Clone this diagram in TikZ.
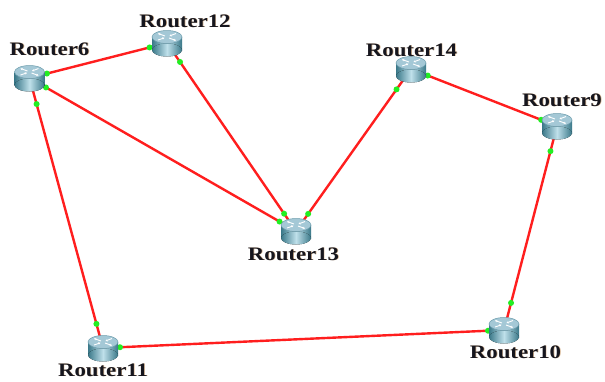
\documentclass[tikz,border=0pt]{standalone}
\usepackage{fontspec}
\setmainfont{Liberation Serif}
\usetikzlibrary{calc,arrows.meta}
\definecolor{linkred}{HTML}{FF1E1E}
\definecolor{portgreen}{HTML}{22EE22}
\definecolor{bodyedge}{HTML}{3A7889}
\definecolor{bodymid}{HTML}{BFE0EA}
\definecolor{topfill}{HTML}{A4C8D6}
\definecolor{topedge}{HTML}{6C9CAC}
\definecolor{labeltext}{HTML}{16161E}
\definecolor{labelshadow}{HTML}{C08A50}
\tikzset{
  routerbox/.style={rectangle,minimum width=30pt,minimum height=27pt,inner sep=0pt},
  link/.style={draw=linkred,line width=2.4pt},
  portdot/.style={fill=portgreen},
  rlabel/.style={anchor=base,inner sep=0pt,font=\bfseries\fontsize{19}{19}\selectfont,text=labeltext},
  rshadow/.style={anchor=base,inner sep=0pt,font=\bfseries\fontsize{19}{19}\selectfont,text=labelshadow,opacity=0.6},
  router/.pic={
    \fill[left color=bodyedge,right color=bodyedge,middle color=bodymid] (-15,-6) rectangle (15,7);
    \fill[left color=bodyedge,right color=bodyedge,middle color=bodymid] (0,7) ellipse [x radius=15, y radius=6.5];
    \fill[topfill,draw=topedge,line width=0.5pt] (0,-6) ellipse [x radius=15, y radius=6.5];
    \draw[white,line width=0.9pt,-{Stealth[length=2.2pt,width=2.4pt]}] (-2,-7) -- (-9,-9.5);
    \draw[white,line width=0.9pt,-{Stealth[length=2.2pt,width=2.4pt]}] (2,-5) -- (9,-2.5);
    \draw[white,line width=0.9pt,-{Stealth[length=2.2pt,width=2.4pt]}] (-9,-3) -- (-2.5,-5.2);
    \draw[white,line width=0.9pt,-{Stealth[length=2.2pt,width=2.4pt]}] (9,-9.5) -- (2.5,-7);
  }
}
\newcommand{\routerlabel}[3]{%
  \node[rshadow] at ($(#1)+(0.7,0.6)$) {\scalebox{1.2}[1]{#3}};
  \node[rlabel] (#2) at (#1) {\scalebox{1.2}[1]{#3}};}
\begin{document}
\begin{tikzpicture}[x=1pt,y=-1pt]
\useasboundingbox[fill=white] (0,0) rectangle (605,381);
% router nodes
\node[routerbox] (r6)  at (29.5,78) {};
\node[routerbox] (r12) at (167,43) {};
\node[routerbox] (r14) at (411,69) {};
\node[routerbox] (r9)  at (557,126) {};
\node[routerbox] (r13) at (296,231) {};
\node[routerbox] (r11) at (103,348) {};
\node[routerbox] (r10) at (504,330) {};
% links
\foreach \a/\b in {r6/r12, r6/r13, r12/r13, r13/r14, r14/r9, r9/r10, r10/r11, r11/r6}{
  \draw[link] (\a.center) -- (\b.center);
}
\foreach \a/\b/\da/\db in {r6/r12/18/18, r6/r13/19/19, r12/r13/23/21, r13/r14/21/25,
                          r14/r9/18/17, r9/r10/26/28, r10/r11/16/17, r11/r6/25/27}{
  \fill[portdot] ($(\a)!\da pt!(\b)$) circle (3pt);
  \fill[portdot] ($(\b)!\db pt!(\a)$) circle (3pt);
}
% icons
\foreach \r in {r6,r12,r14,r9,r13,r11,r10}{
  \pic at (\r) {router};
}
% labels
\coordinate (l6) at (49.5,55);
\coordinate (l12) at (185,27);
\coordinate (l14) at (411.5,56);
\coordinate (l9) at (562,106);
\coordinate (l13) at (293.5,260);
\coordinate (l11) at (103,376);
\coordinate (l10) at (515.5,358);
\routerlabel{l6}{t6}{Router6}
\routerlabel{l12}{t12}{Router12}
\routerlabel{l14}{t14}{Router14}
\routerlabel{l9}{t9}{Router9}
\routerlabel{l13}{t13}{Router13}
\routerlabel{l11}{t11}{Router11}
\routerlabel{l10}{t10}{Router10}
\end{tikzpicture}
\end{document}
